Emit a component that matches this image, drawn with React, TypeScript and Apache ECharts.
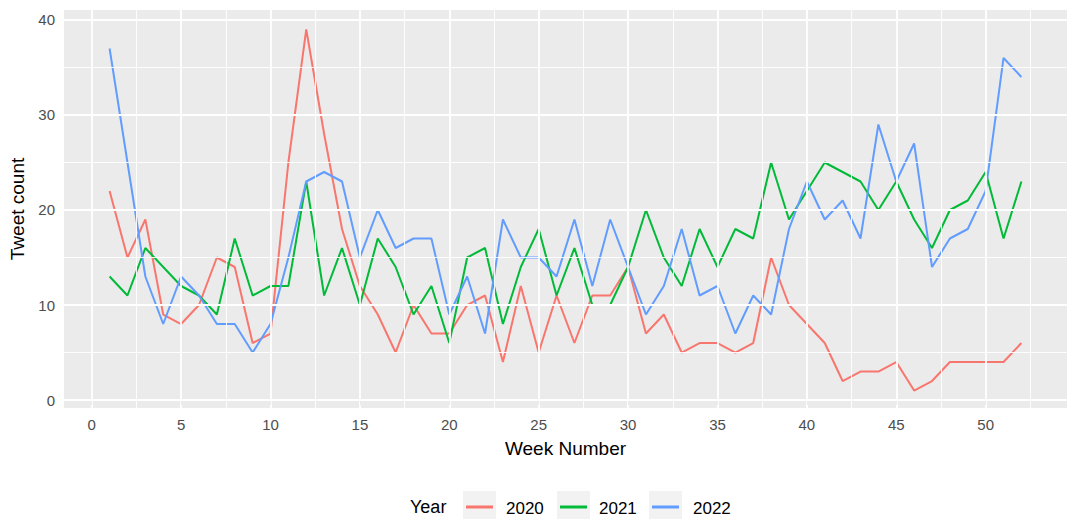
import React, { useEffect, useRef } from "react";
import * as echarts from "echarts";

const weeks = [1,2,3,4,5,6,7,8,9,10,11,12,13,14,15,16,17,18,19,20,21,22,23,24,25,26,27,28,29,30,31,32,33,34,35,36,37,38,39,40,41,42,43,44,45,46,47,48,49,50,51,52];
const tweets2020 = [22,15,19,9,8,10,15,14,6,7,25,39,28,18,12,9,5,10,7,7,10,11,4,12,5,11,6,11,11,14,7,9,5,6,6,5,6,15,10,8,6,2,3,3,4,1,2,4,4,4,4,6];
const tweets2021 = [13,11,16,14,12,11,9,17,11,12,12,23,11,16,10,17,14,9,12,6,15,16,8,14,18,11,16,10,10,14,20,15,12,18,14,18,17,25,19,22,25,24,23,20,23,19,16,20,21,24,17,23];
const tweets2022 = [37,25,13,8,13,11,8,8,5,8,15,23,24,23,15,20,16,17,17,9,13,7,19,15,15,13,19,12,19,14,9,12,18,11,12,7,11,9,18,23,19,21,17,29,23,27,14,17,18,22,36,34];
const years = ["2020", "2021", "2022"];
const yearColors = ["#F8766D", "#00BA38", "#619CFF"];
const xMajor = [0, 5, 10, 15, 20, 25, 30, 35, 40, 45, 50];
const xMinor = [2.5, 7.5, 12.5, 17.5, 22.5, 27.5, 32.5, 37.5, 42.5, 47.5, 52.5];
const yMajor = [0, 10, 20, 30, 40];
const yMinor = [5, 15, 25, 35];

const FONT = "'Liberation Sans', Arial, sans-serif";

export default function App() {
  const ref = useRef<HTMLDivElement>(null);
  useEffect(() => {
    if (!ref.current) return;
    const chart = echarts.init(ref.current, null, { renderer: "svg" });
    const seriesData = [tweets2020, tweets2021, tweets2022];
    const gridLine = (axis: "xAxis" | "yAxis", v: number, w: number) => ({
      [axis]: v,
      lineStyle: { color: "#FFFFFF", width: w, type: "solid" },
    });
    const markData = [
      ...xMinor.map((v) => gridLine("xAxis", v, 0.9)),
      ...yMinor.map((v) => gridLine("yAxis", v, 0.9)),
      ...xMajor.map((v) => gridLine("xAxis", v, 1.8)),
      ...yMajor.map((v) => gridLine("yAxis", v, 1.8)),
    ];
    const legendItems: any[] = [
      { type: "text", left: 410, top: 498, style: { text: "Year", font: `18px ${FONT}`, fill: "#000" } },
    ];
    const boxX = [463, 557, 649];
    const textX = [506, 599, 693];
    years.forEach((y, i) => {
      legendItems.push({ type: "rect", shape: { x: boxX[i], y: 491, width: 33, height: 33 }, style: { fill: "#F2F2F2" } });
      legendItems.push({ type: "line", shape: { x1: boxX[i] + 3, y1: 507, x2: boxX[i] + 30, y2: 507 }, style: { stroke: yearColors[i], lineWidth: 3 } });
      legendItems.push({ type: "text", left: textX[i], top: 500, style: { text: y, font: `17px ${FONT}`, fill: "#000" } });
    });
    chart.setOption({
      animation: false,
      backgroundColor: "#FFFFFF",
      textStyle: { fontFamily: FONT },
      grid: {
        left: 64,
        top: 10,
        right: -11,
        height: 398,
        show: true,
        backgroundColor: "#EBEBEB",
        borderWidth: 0,
      },
      xAxis: {
        type: "value",
        min: -1.55,
        max: 54.55,
        name: "Week Number",
        nameLocation: "middle",
        nameGap: 31,
        nameTextStyle: { fontSize: 19, color: "#000", fontFamily: FONT },
        axisLine: { show: false },
        axisTick: { show: true, length: 5, lineStyle: { color: "#333333" }, customValues: xMajor },
        axisLabel: { customValues: xMajor, color: "#4D4D4D", fontSize: 15, margin: 9, fontFamily: FONT },
        splitLine: { show: false },
      },
      yAxis: {
        type: "value",
        min: -0.84,
        max: 41.05,
        name: "Tweet count",
        nameLocation: "middle",
        nameGap: 34,
        nameTextStyle: { fontSize: 19, color: "#000", fontFamily: FONT },
        axisLine: { show: false },
        axisTick: { show: true, length: 5, lineStyle: { color: "#333333" }, customValues: yMajor },
        axisLabel: { customValues: yMajor, color: "#4D4D4D", fontSize: 15, margin: 9, fontFamily: FONT },
        splitLine: { show: false },
      },
      graphic: legendItems,
      series: [
        {
          type: "line",
          name: "grid",
          data: [],
          z: 1,
          silent: true,
          markLine: {
            silent: true,
            symbol: ["none", "none"],
            label: { show: false },
            emphasis: { disabled: true },
            animation: false,
            data: markData,
          },
        },
        ...years.map((y, i) => ({
          type: "line",
          name: y,
          z: 3,
          data: weeks.map((w, j) => [w, seriesData[i][j]]),
          symbol: "none",
          lineStyle: { color: yearColors[i], width: 2 },
          itemStyle: { color: yearColors[i] },
        })),
      ],
    });
    return () => chart.dispose();
  }, []);
  return (
    <div
      ref={ref}
      style={{ position: "fixed", left: 0, top: 0, width: 1067, height: 519, background: "#fff" }}
    />
  );
}
